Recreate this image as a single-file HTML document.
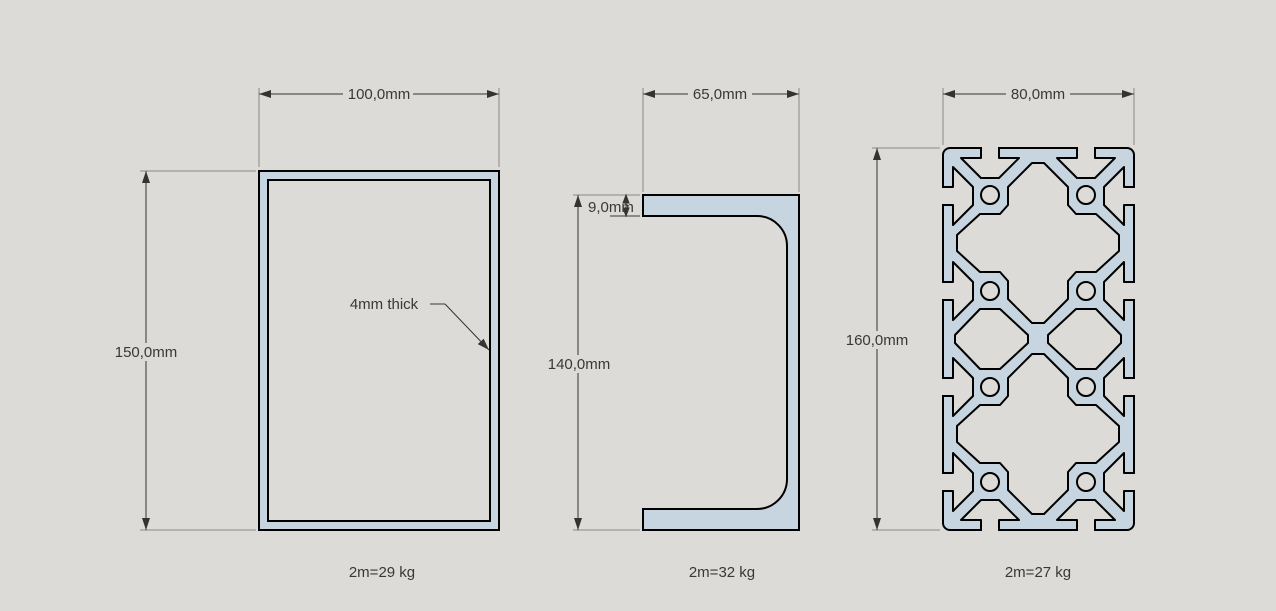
<!DOCTYPE html>
<html><head><meta charset="utf-8"><style>
html,body{margin:0;padding:0;background:#dcdbd7;}
svg{display:block;}
text{font-family:"Liberation Sans",sans-serif;font-size:15px;fill:#383838;}
</style></head><body>
<svg width="1276" height="611" viewBox="0 0 1276 611" xmlns="http://www.w3.org/2000/svg">
<defs>
<marker id="a" viewBox="0 0 12 8" refX="12" refY="4" markerWidth="12" markerHeight="8" markerUnits="userSpaceOnUse" orient="auto-start-reverse">
<path d="M0,0 L12,4 L0,8 Z" fill="#333"/></marker>
</defs>
<rect width="1276" height="611" fill="#dcdbd7"/>
<g stroke="#8a8a8a" stroke-width="1" fill="none">
<line x1="259" y1="88" x2="259" y2="167"/><line x1="499" y1="88" x2="499" y2="167"/>
<line x1="140" y1="171" x2="256" y2="171"/><line x1="140" y1="530" x2="256" y2="530"/>
<line x1="643" y1="88" x2="643" y2="192"/><line x1="799" y1="88" x2="799" y2="192"/>
<line x1="573" y1="195" x2="640" y2="195"/><line x1="573" y1="530" x2="640" y2="530"/>
<line x1="610" y1="216" x2="640" y2="216" stroke-width="2"/>
<line x1="943" y1="88" x2="943" y2="145"/><line x1="1134" y1="88" x2="1134" y2="145"/>
<line x1="872" y1="148" x2="940" y2="148"/><line x1="872" y1="530" x2="940" y2="530"/>
<line x1="430" y1="304" x2="445" y2="304" stroke-width="2"/>
</g>
<g stroke="#333" stroke-width="1" fill="none">
<line x1="259" y1="94" x2="499" y2="94" marker-start="url(#a)" marker-end="url(#a)"/>
<line x1="146" y1="171" x2="146" y2="530" marker-start="url(#a)" marker-end="url(#a)"/>
<line x1="643" y1="94" x2="799" y2="94" marker-start="url(#a)" marker-end="url(#a)"/>
<line x1="578" y1="195" x2="578" y2="530" marker-start="url(#a)" marker-end="url(#a)"/>
<line x1="943" y1="94" x2="1134" y2="94" marker-start="url(#a)" marker-end="url(#a)"/>
<line x1="877" y1="148" x2="877" y2="530" marker-start="url(#a)" marker-end="url(#a)"/>
<line x1="445" y1="304" x2="489" y2="350" marker-end="url(#a)"/>
</g>
<path d="M259,171 H499 V530 H259 Z M268,180 V521 H490 V180 Z" fill="#c6d5df" fill-rule="evenodd" stroke="#000" stroke-width="2"/>
<path d="M643,195 H799 V530 H643 V509 H757 A30,30 0 0 0 787,479 V246 A30,30 0 0 0 757,216 H643 Z" fill="#c6d5df" stroke="#000" stroke-width="2"/>
<g stroke="#333" fill="#333"><line x1="626" y1="199" x2="626" y2="212"/><path d="M623,203 L626,195 L629,203 Z M623,208 L626,216 L629,208 Z"/></g>
<g stroke="#000" stroke-width="2" stroke-linejoin="round">
<rect x="943" y="148" width="191" height="382" rx="7" fill="#c6d5df"/>
<g fill="#dcdbd7">
<path d="M981,148 V158 H961 L981,178 H999 L1019,158 H999 V148"/>
<path d="M1077,148 V158 H1057 L1077,178 H1095 L1115,158 H1095 V148"/>
<path d="M981,530 V520 H961 L981,500 H999 L1019,520 H999 V530"/>
<path d="M1077,530 V520 H1057 L1077,500 H1095 L1115,520 H1095 V530"/>
<path d="M943,187 H953 V167 L973,187 V205 L953,225 V205 H943"/>
<path d="M943,282 H953 V262 L973,282 V300 L953,320 V300 H943"/>
<path d="M943,378 H953 V358 L973,378 V396 L953,416 V396 H943"/>
<path d="M943,473 H953 V453 L973,473 V491 L953,511 V491 H943"/>
<path d="M1134,187 H1124 V167 L1104,187 V205 L1124,225 V205 H1134"/>
<path d="M1134,282 H1124 V262 L1104,282 V300 L1124,320 V300 H1134"/>
<path d="M1134,378 H1124 V358 L1104,378 V396 L1124,416 V396 H1134"/>
<path d="M1134,473 H1124 V453 L1104,473 V491 L1124,511 V491 H1134"/>
<path d="M1032,163 H1044 L1068,187 V205 L1076,214 H1096 L1119,235 V251 L1096,272 H1076 L1068,281 V299 L1044,323 H1032 L1008,299 V281 L1000,272 H980 L957,251 V235 L980,214 H1000 L1008,205 V187 Z"/>
<path d="M1032,354 H1044 L1068,378 V396 L1076,405 H1096 L1119,426 V442 L1096,463 H1076 L1068,472 V490 L1044,514 H1032 L1008,490 V472 L1000,463 H980 L957,442 V426 L980,405 H1000 L1008,396 V378 Z"/>
<path d="M980,309 H1000 L1028,335 V343 L1000,369 H980 L955,343 V335 Z"/>
<path d="M1076,309 H1096 L1121,335 V343 L1096,369 H1076 L1048,343 V335 Z"/>
<circle cx="990" cy="195" r="9"/><circle cx="1086" cy="195" r="9"/>
<circle cx="990" cy="291" r="9"/><circle cx="1086" cy="291" r="9"/>
<circle cx="990" cy="387" r="9"/><circle cx="1086" cy="387" r="9"/>
<circle cx="990" cy="482" r="9"/><circle cx="1086" cy="482" r="9"/>
</g></g>
<!-- cover outer stroke at slot openings -->
<g fill="#dcdbd7">
<rect x="982" y="145" width="16" height="4"/><rect x="1078" y="145" width="16" height="4"/>
<rect x="982" y="529" width="16" height="4"/><rect x="1078" y="529" width="16" height="4"/>
<rect x="940" y="188" width="4" height="16"/><rect x="940" y="283" width="4" height="16"/>
<rect x="940" y="379" width="4" height="16"/><rect x="940" y="474" width="4" height="16"/>
<rect x="1133" y="188" width="4" height="16"/><rect x="1133" y="283" width="4" height="16"/>
<rect x="1133" y="379" width="4" height="16"/><rect x="1133" y="474" width="4" height="16"/>
</g>
<g fill="#dcdbd7">
<rect x="343" y="86" width="70" height="16"/>
<rect x="111" y="343" width="70" height="18"/>
<rect x="688" y="86" width="64" height="16"/>
<rect x="544" y="355" width="70" height="18"/>
<rect x="1006" y="86" width="64" height="16"/>
<rect x="841" y="331" width="72" height="18"/>
</g>
<text x="379" y="99" text-anchor="middle">100,0mm</text>
<text x="146" y="357" text-anchor="middle">150,0mm</text>
<text x="384" y="309" text-anchor="middle">4mm thick</text>
<text x="720" y="99" text-anchor="middle">65,0mm</text>
<text x="588" y="212">9,0mm</text>
<text x="579" y="369" text-anchor="middle">140,0mm</text>
<text x="1038" y="99" text-anchor="middle">80,0mm</text>
<text x="877" y="345" text-anchor="middle">160,0mm</text>
<text x="382" y="577" text-anchor="middle">2m=29 kg</text>
<text x="722" y="577" text-anchor="middle">2m=32 kg</text>
<text x="1038" y="577" text-anchor="middle">2m=27 kg</text>
</svg>
</body></html>
